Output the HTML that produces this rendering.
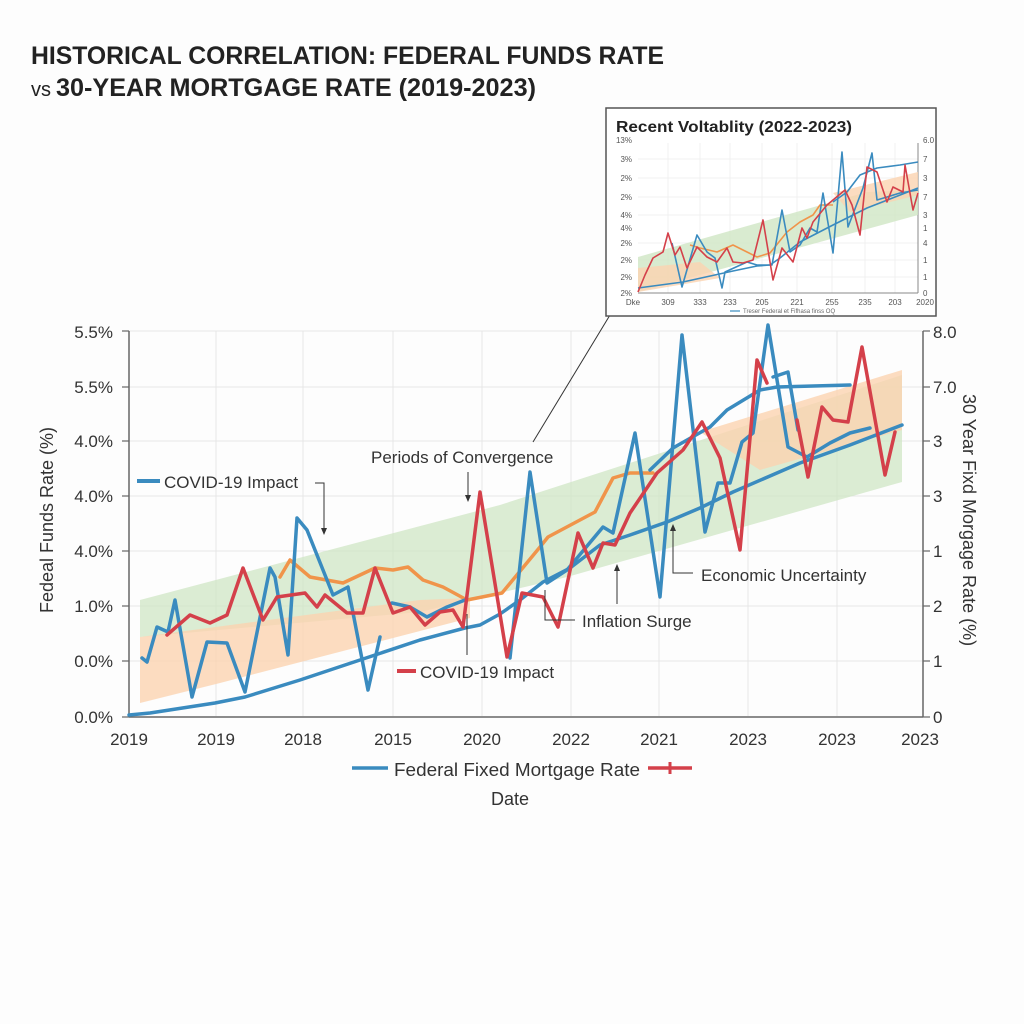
<!DOCTYPE html>
<html><head><meta charset="utf-8"><style>
html,body{margin:0;padding:0;background:#fdfdfd;}
svg{display:block;font-family:"Liberation Sans",sans-serif;}
</style></head><body>
<svg width="1024" height="1024" viewBox="0 0 1024 1024" xmlns="http://www.w3.org/2000/svg">
<rect width="1024" height="1024" fill="#fdfdfd"/>
<!-- title -->
<text x="31" y="64" font-size="25" font-weight="bold" fill="#222" textLength="633" lengthAdjust="spacingAndGlyphs">HISTORICAL CORRELATION: FEDERAL FUNDS RATE</text>
<text x="31" y="96" font-size="20" fill="#222">vs</text>
<text x="56" y="96" font-size="25" font-weight="bold" fill="#222" textLength="480" lengthAdjust="spacingAndGlyphs">30-YEAR MORTGAGE RATE (2019-2023)</text>

<!-- grid -->
<g stroke="#e6e6e6" stroke-width="1">
<line x1="129" y1="387" x2="923" y2="387"/><line x1="129" y1="441" x2="923" y2="441"/>
<line x1="129" y1="496" x2="923" y2="496"/><line x1="129" y1="551" x2="923" y2="551"/>
<line x1="129" y1="606" x2="923" y2="606"/><line x1="129" y1="661" x2="923" y2="661"/>
<line x1="129" y1="331" x2="923" y2="331"/>
<line x1="216" y1="331" x2="216" y2="716"/><line x1="303" y1="331" x2="303" y2="716"/>
<line x1="393" y1="331" x2="393" y2="716"/><line x1="482" y1="331" x2="482" y2="716"/>
<line x1="571" y1="331" x2="571" y2="716"/><line x1="659" y1="331" x2="659" y2="716"/>
<line x1="748" y1="331" x2="748" y2="716"/><line x1="837" y1="331" x2="837" y2="716"/>
</g>
<!-- bands -->
<polygon points="140,600 500,505 902,375 902,482 567,577 420,612 140,637" fill="#cfe6c4" opacity="0.75"/>
<polygon points="140,637 420,600 470,598 470,618 220,683 140,703" fill="#fbd3b0" opacity="0.8"/>
<polygon points="700,432 902,370 902,430 760,470" fill="#fbd3b0" opacity="0.8"/>
<!-- axes -->
<g stroke="#666" stroke-width="1.5" fill="none">
<line x1="129" y1="331" x2="129" y2="717"/><line x1="129" y1="717" x2="923" y2="717"/>
<line x1="923" y1="331" x2="923" y2="717"/>
</g>
<g stroke="#666" stroke-width="1.2">
<line x1="122" y1="331" x2="129" y2="331"/><line x1="122" y1="387" x2="129" y2="387"/><line x1="122" y1="441" x2="129" y2="441"/><line x1="122" y1="496" x2="129" y2="496"/><line x1="122" y1="551" x2="129" y2="551"/><line x1="122" y1="606" x2="129" y2="606"/><line x1="122" y1="661" x2="129" y2="661"/><line x1="122" y1="717" x2="129" y2="717"/>
<line x1="923" y1="331" x2="930" y2="331"/><line x1="923" y1="387" x2="930" y2="387"/><line x1="923" y1="441" x2="930" y2="441"/><line x1="923" y1="496" x2="930" y2="496"/><line x1="923" y1="551" x2="930" y2="551"/><line x1="923" y1="606" x2="930" y2="606"/><line x1="923" y1="661" x2="930" y2="661"/><line x1="923" y1="717" x2="930" y2="717"/>
</g>
<g font-size="17" fill="#333" text-anchor="end">
<text x="113" y="338">5.5%</text><text x="113" y="393">5.5%</text><text x="113" y="447">4.0%</text><text x="113" y="502">4.0%</text><text x="113" y="557">4.0%</text><text x="113" y="612">1.0%</text><text x="113" y="667">0.0%</text><text x="113" y="723">0.0%</text>
</g>
<g font-size="17" fill="#333" text-anchor="start">
<text x="933" y="338">8.0</text><text x="933" y="393">7.0</text><text x="933" y="447">3</text><text x="933" y="502">3</text><text x="933" y="557">1</text><text x="933" y="612">2</text><text x="933" y="667">1</text><text x="933" y="723">0</text>
</g>
<g font-size="17" fill="#333" text-anchor="middle">
<text x="129" y="745">2019</text><text x="216" y="745">2019</text><text x="303" y="745">2018</text><text x="393" y="745">2015</text><text x="482" y="745">2020</text><text x="571" y="745">2022</text><text x="659" y="745">2021</text><text x="748" y="745">2023</text><text x="837" y="745">2023</text><text x="920" y="745">2023</text>
</g>
<text transform="translate(53,520) rotate(-90)" font-size="18" fill="#333" text-anchor="middle">Fedeal Funds Rate (%)</text>
<text transform="translate(963,520) rotate(90)" font-size="18" fill="#333" text-anchor="middle">30 Year Fixd Morgage Rate (%)</text>

<!-- series -->
<g fill="none" stroke-width="3.5" stroke-linejoin="round" stroke-linecap="round">
<polyline stroke="#f0944a" points="280,577 290,560 310,577 343,583 375,568 393,570 408,567 423,580 443,587 467,600 502,593 540,547 548,537 595,512 613,478 630,473 653,473"/>
<polyline stroke="#3a8bbf" points="129,715 150,713 215,703 245,697 300,680 360,660 420,640 465,628 480,625 500,614 520,600 543,582 570,568 600,545 630,535 667,522 700,508 733,492 770,476 800,463 850,445 902,425"/>
<polyline stroke="#3a8bbf" points="650,470 673,448 710,427 727,410 760,390 777,387 850,385"/>
<polyline stroke="#3a8bbf" points="142,658 147,662 157,627 168,632 175,600 192,697 207,642 227,643 245,692 270,568 275,577 288,655 297,518 307,530 333,595 348,587 368,690 380,637"/>
<polyline stroke="#3a8bbf" points="392,603 410,607 427,617 447,607 465,600"/>
<polyline stroke="#3a8bbf" points="510,658 530,472 547,583 567,570 603,527 613,533 635,433 660,597 682,335 705,532 718,483 730,483 742,442 753,433 768,325 788,447 807,457 830,443 850,433 870,428"/>
<polyline stroke="#3a8bbf" points="773,377 788,372 798,430"/>
<polyline stroke="#d4404a" points="167,635 190,615 210,623 227,615 243,568 263,620 277,597 305,593 317,607 325,595 347,613 363,613 375,568 393,613 410,607 425,625 440,612 453,610 463,627 480,492 507,657 522,593 543,597 558,627 578,533 593,568 603,543 615,545 630,513 657,473 683,450 702,422 720,458 740,550 757,360 767,383"/>
<polyline stroke="#d4404a" points="797,420 808,477 822,407 833,420 848,422 862,347 885,475 895,432"/>
</g>

<!-- annotations -->
<line x1="137" y1="481" x2="160" y2="481" stroke="#3a8bbf" stroke-width="4"/>
<text x="164" y="488" font-size="17" fill="#333">COVID-19 Impact</text>
<polyline points="315,483 324,483 324,531" fill="none" stroke="#333" stroke-width="1"/>
<path d="M321,528 L324,535 L327,528 Z" fill="#333"/>
<text x="371" y="463" font-size="17" fill="#333">Periods of Convergence</text>
<line x1="468" y1="472" x2="468" y2="497" stroke="#333" stroke-width="1"/>
<path d="M465,495 L468,502 L471,495 Z" fill="#333"/>
<line x1="533" y1="442" x2="610" y2="315" stroke="#333" stroke-width="1"/>
<line x1="467" y1="614" x2="467" y2="655" stroke="#333" stroke-width="1"/>
<line x1="397" y1="671" x2="416" y2="671" stroke="#d4404a" stroke-width="4"/>
<text x="420" y="678" font-size="17" fill="#333">COVID-19 Impact</text>
<polyline points="545,590 545,620 575,620" fill="none" stroke="#333" stroke-width="1"/>
<text x="582" y="627" font-size="17" fill="#333">Inflation Surge</text>
<line x1="617" y1="569" x2="617" y2="604" stroke="#333" stroke-width="1"/>
<path d="M614,571 L617,564 L620,571 Z" fill="#333"/>
<polyline points="673,529 673,573 693,573" fill="none" stroke="#333" stroke-width="1"/>
<path d="M670,531 L673,524 L676,531 Z" fill="#333"/>
<text x="701" y="581" font-size="17" fill="#333">Economic Uncertainty</text>

<!-- legend -->
<line x1="352" y1="768" x2="388" y2="768" stroke="#3a8bbf" stroke-width="3.5"/>
<text x="394" y="776" font-size="18" fill="#333" textLength="246" lengthAdjust="spacingAndGlyphs">Federal Fixed Mortgage Rate</text>
<line x1="648" y1="768" x2="692" y2="768" stroke="#d4404a" stroke-width="3.5"/>
<line x1="670" y1="762" x2="670" y2="774" stroke="#d4404a" stroke-width="3"/>
<text x="510" y="805" font-size="18" fill="#333" text-anchor="middle">Date</text>

<!-- inset -->
<rect x="606" y="108" width="330" height="208" fill="#ffffff" stroke="#555" stroke-width="1.5"/>
<text x="616" y="132" font-size="16" font-weight="bold" fill="#222" textLength="236" lengthAdjust="spacingAndGlyphs">Recent Voltablity (2022-2023)</text>
<g stroke="#eee" stroke-width="0.8">
<line x1="638" y1="159" x2="918" y2="159"/><line x1="638" y1="178" x2="918" y2="178"/><line x1="638" y1="197" x2="918" y2="197"/><line x1="638" y1="215" x2="918" y2="215"/><line x1="638" y1="243" x2="918" y2="243"/><line x1="638" y1="260" x2="918" y2="260"/><line x1="638" y1="277" x2="918" y2="277"/>
<line x1="668" y1="143" x2="668" y2="293"/><line x1="700" y1="143" x2="700" y2="293"/><line x1="730" y1="143" x2="730" y2="293"/><line x1="762" y1="143" x2="762" y2="293"/><line x1="797" y1="143" x2="797" y2="293"/><line x1="832" y1="143" x2="832" y2="293"/><line x1="865" y1="143" x2="865" y2="293"/><line x1="895" y1="143" x2="895" y2="293"/>
</g>
<line x1="638" y1="293" x2="918" y2="293" stroke="#888" stroke-width="1"/>
<line x1="918" y1="143" x2="918" y2="293" stroke="#888" stroke-width="1"/>
<polygon points="638,257 867,192 918,190 918,215 638,292" fill="#cfe6c4" opacity="0.8"/>
<polygon points="638,268 700,262 720,278 638,292" fill="#fbd3b0" opacity="0.8"/>
<polygon points="833,193 918,172 918,195 850,212" fill="#fbd3b0" opacity="0.8"/>
<g fill="none" stroke-width="1.6" stroke-linejoin="round">
<polyline stroke="#f0944a" points="690,245 700,248 717,252 733,245 747,252 757,257 770,253 787,232 800,222 813,215 820,205 833,205"/>
<polyline stroke="#3a8bbf" points="638,288 683,282 733,271 757,266 770,265 780,258 800,242 833,225 867,208 918,188"/>
<polyline stroke="#3a8bbf" points="833,202 847,192 860,175 877,168 900,165 918,162"/>
<polyline stroke="#3a8bbf" points="672,243 682,287 697,235 707,252 715,258 722,288 725,272 747,262 757,265 772,265 782,210 790,252 800,245 810,228 817,232 823,193 833,253 842,152 848,227 863,188 872,153 877,200 887,197 900,193 918,190"/>
<polyline stroke="#d4404a" points="638,292 645,275 653,258 663,252 668,233 675,255 680,247 687,268 697,247 707,257 717,262 727,248 733,262 743,263 753,260 763,220 773,280 782,248 793,262 802,228 807,238 813,222 827,205 845,190 852,205 860,235 867,167 877,172 887,202 893,187 903,192 905,165 913,210 918,193"/>
</g>
<g font-size="8" fill="#555" text-anchor="end">
<text x="632" y="143">13%</text><text x="632" y="162">3%</text><text x="632" y="181">2%</text><text x="632" y="200">2%</text><text x="632" y="218">4%</text><text x="632" y="231">4%</text><text x="632" y="246">2%</text><text x="632" y="263">2%</text><text x="632" y="280">2%</text><text x="632" y="296">2%</text>
</g>
<g font-size="8" fill="#555">
<text x="923" y="143">6.0</text><text x="923" y="162">7</text><text x="923" y="181">3</text><text x="923" y="200">7</text><text x="923" y="218">3</text><text x="923" y="231">1</text><text x="923" y="246">4</text><text x="923" y="263">1</text><text x="923" y="280">1</text><text x="923" y="296">0</text>
</g>
<g font-size="8" fill="#555" text-anchor="middle">
<text x="633" y="305">Dke</text><text x="668" y="305">309</text><text x="700" y="305">333</text><text x="730" y="305">233</text><text x="762" y="305">205</text><text x="797" y="305">221</text><text x="832" y="305">255</text><text x="865" y="305">235</text><text x="895" y="305">203</text><text x="925" y="305">2020</text>
</g>
<line x1="730" y1="311" x2="740" y2="311" stroke="#3a8bbf" stroke-width="1.2"/>
<text x="743" y="313" font-size="6" fill="#666">Treser Federal et Fifhasa finss OQ</text>
</svg>
</body></html>
